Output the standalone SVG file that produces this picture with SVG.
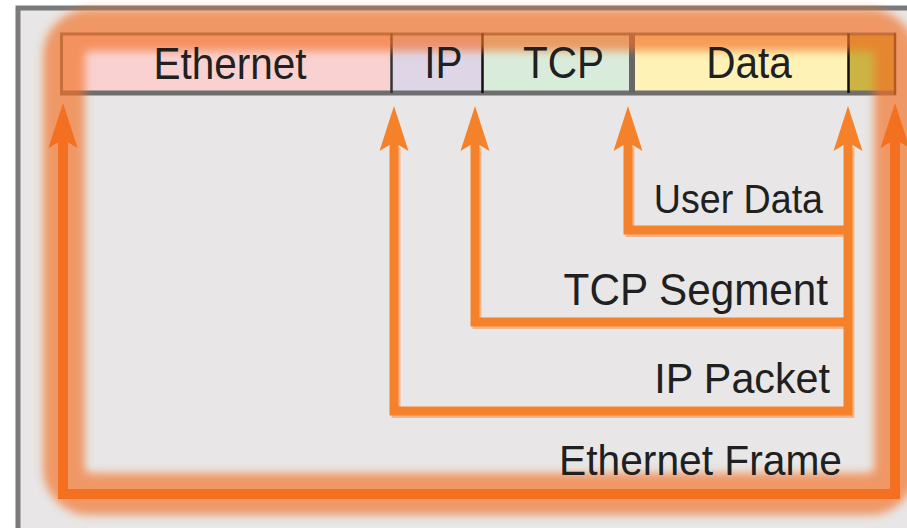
<svg xmlns="http://www.w3.org/2000/svg" width="907" height="528" viewBox="0 0 907 528">
<defs>
<style>
.t{font-family:"Liberation Sans",Arial,Helvetica,sans-serif;fill:#202020}
.h{font-size:45px;text-anchor:middle}
.l{text-anchor:end}
.ln{fill:none;stroke:#f5822a;stroke-width:9;stroke-linejoin:miter;stroke-linecap:butt}
.lo{fill:none;stroke:#f37021;stroke-width:10;stroke-linejoin:miter}
.sh{fill:none;stroke:#f3b58c;stroke-width:9;stroke-linejoin:miter}
.ai{fill:#f5822a}
.ao{fill:#f37021}
</style>
<filter id="blur" x="-10%" y="-10%" width="120%" height="120%"><feGaussianBlur stdDeviation="4.5"/></filter>
<path id="ah" d="M0,0 L14.5,45 L4.5,39 L-4.5,39 L-14.5,45 Z"/>
</defs>
<rect width="907" height="528" fill="#ffffff"/>
<g id="panel">
<rect x="18" y="8" width="889" height="520" fill="#e8e6e6"/>
<path d="M18,528 V8 H907" fill="none" stroke="#7a7a7a" stroke-width="5"/>
</g>
<g id="header">
<g id="cell-ethernet"><rect x="60" y="33" width="331" height="62" fill="#f9d1d1"/></g>
<g id="cell-ip"><rect x="391" y="33" width="91" height="62" fill="#ded5e7"/></g>
<g id="cell-tcp"><rect x="482" y="33" width="150" height="62" fill="#d9ecdb"/></g>
<g id="cell-data"><rect x="632" y="33" width="216" height="62" fill="#fff2b6"/></g>
<g id="cell-trailer"><rect x="848" y="33" width="48" height="62" fill="#ccb443"/></g>
<path d="M60,34 H896" stroke="#6e6e6e" stroke-width="3"/>
<path d="M60,93 H896" stroke="#6e6e6e" stroke-width="5"/>
<path d="M61.5,33 V95" stroke="#6e6e6e" stroke-width="3"/>
<path d="M895,33 V95" stroke="#3a2a1a" stroke-width="2.5"/>
<path d="M391.5,33 V93" stroke="#333" stroke-width="2.5"/>
<path d="M482.5,33 V93" stroke="#111" stroke-width="2.5"/>
<path d="M632,33 V93" stroke="#666" stroke-width="6"/>
<path d="M848.5,33 V93" stroke="#111" stroke-width="2.5"/>
</g>
<g id="glow">
<rect x="64" y="30" width="831" height="464" rx="26" fill="none" stroke="#f37021" stroke-opacity="0.66" stroke-width="42" filter="url(#blur)"/>
</g>
<g id="header-text">
<text class="t h" font-size="46" transform="translate(230,79) scale(0.9,1)">Ethernet</text>
<text class="t h" transform="translate(443.5,78) scale(0.9,1)">IP</text>
<text class="t h" transform="translate(563.5,78) scale(0.9,1)">TCP</text>
<text class="t h" transform="translate(749,78) scale(0.9,1)">Data</text>
</g>
<g id="connectors">
<g transform="translate(2,2.5)">
<path class="sh" d="M394,145 V411 H848 V145"/>
<path class="sh" d="M475,145 V322 H848"/>
<path class="sh" d="M628,145 V230 H848"/>
</g>
<path class="lo" d="M63,142 V494 H895 V142"/>
<path class="ln" d="M394,145 V411 H848 V145"/>
<path class="ln" d="M475,145 V322 H848"/>
<path class="ln" d="M628,145 V230 H848"/>
<use href="#ah" class="ao" x="63" y="103"/>
<use href="#ah" class="ao" x="895" y="103"/>
<use href="#ah" class="ai" x="394" y="106"/>
<use href="#ah" class="ai" x="475" y="106"/>
<use href="#ah" class="ai" x="628" y="106"/>
<use href="#ah" class="ai" x="848" y="106"/>
</g>
<g id="label-user-data"><text class="t l" font-size="40" transform="translate(823,213) scale(0.94,1)">User Data</text></g>
<g id="label-tcp-segment"><text class="t l" font-size="44" transform="translate(828,305) scale(0.96,1)">TCP Segment</text></g>
<g id="label-ip-packet"><text class="t l" font-size="43" transform="translate(830,393) scale(0.96,1)">IP Packet</text></g>
<g id="label-ethernet-frame"><text class="t l" font-size="42" transform="translate(842,475) scale(0.97,1)">Ethernet Frame</text></g>
</svg>
